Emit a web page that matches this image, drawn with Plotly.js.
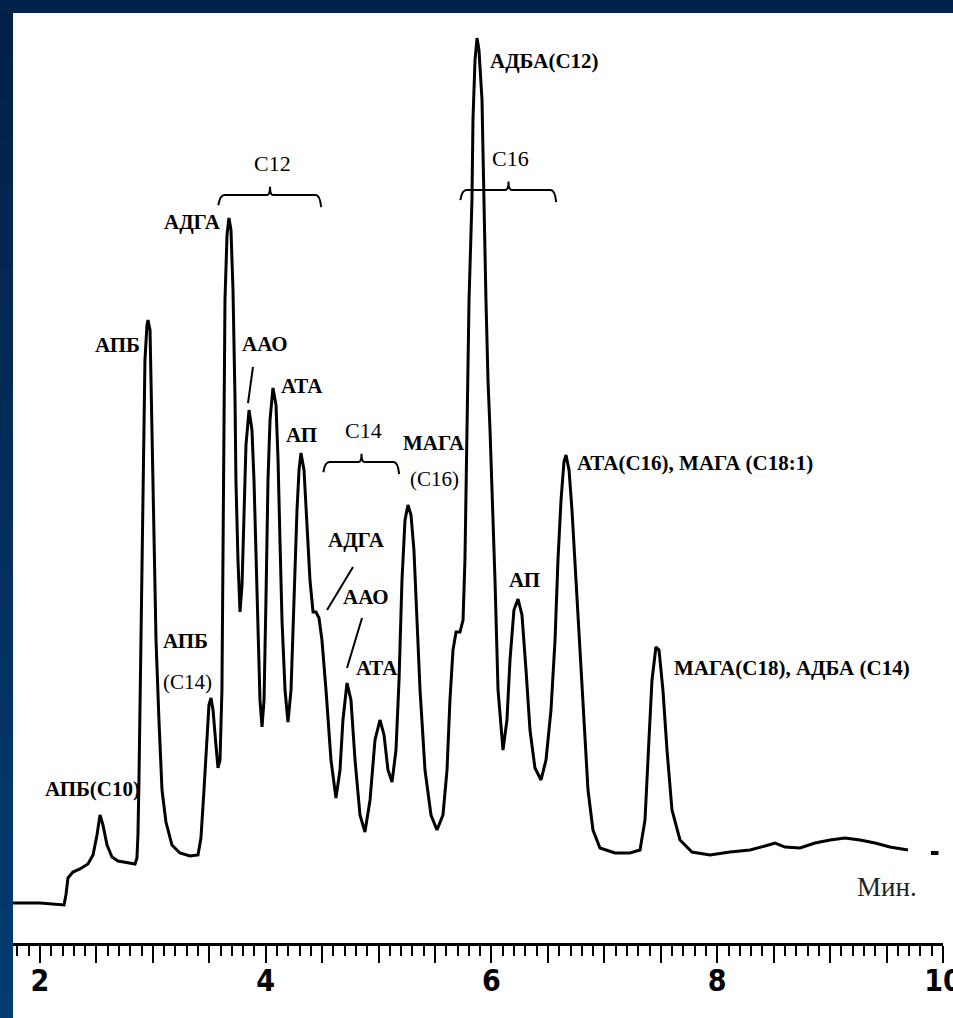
<!DOCTYPE html>
<html><head><meta charset="utf-8">
<script src="https://cdn.plot.ly/plotly-3.0.1.min.js"></script>
<style>html,body{margin:0;padding:0;background:#01234b;overflow:hidden}</style>
</head><body><div id="chart" style="width:953px;height:1018px;"></div>
<script>
// retention time, minutes
const timeMin = [
 1.761,2.000,2.213,2.230,2.248,2.292,2.354,2.425,2.470,2.505,
 2.532,2.558,2.594,2.638,2.691,2.780,2.842,2.859,2.868,2.877,
 2.895,2.904,2.913,2.930,2.948,2.957,2.975,2.992,3.001,3.010,
 3.028,3.054,3.081,3.116,3.169,3.240,3.329,3.400,3.426,3.453,
 3.480,3.497,3.515,3.533,3.559,3.577,3.595,3.612,3.621,3.630,
 3.639,3.657,3.674,3.692,3.710,3.728,3.736,3.754,3.772,3.790,
 3.807,3.825,3.852,3.878,3.896,3.914,3.931,3.949,3.967,3.985,
 4.002,4.020,4.038,4.064,4.091,4.109,4.126,4.144,4.171,4.197,
 4.224,4.250,4.277,4.295,4.312,4.339,4.365,4.392,4.419,4.445,
 4.472,4.498,4.534,4.578,4.622,4.658,4.684,4.720,4.755,4.791,
 4.835,4.879,4.924,4.968,5.012,5.048,5.083,5.119,5.154,5.181,
 5.207,5.234,5.260,5.287,5.313,5.340,5.367,5.411,5.464,5.517,
 5.570,5.606,5.632,5.659,5.686,5.721,5.748,5.765,5.783,5.801,
 5.827,5.836,5.854,5.872,5.889,5.898,5.916,5.925,5.934,5.951,
 5.969,5.987,6.031,6.058,6.102,6.137,6.164,6.199,6.235,6.270,
 6.306,6.341,6.385,6.439,6.483,6.527,6.563,6.589,6.616,6.642,
 6.660,6.687,6.713,6.749,6.784,6.820,6.855,6.899,6.961,7.094,
 7.227,7.316,7.360,7.395,7.422,7.457,7.484,7.519,7.555,7.599,
 7.670,7.776,7.936,8.113,8.290,8.423,8.512,8.600,8.733,8.866,
 8.999,9.132,9.265,9.398,9.530,9.690
];
// detector signal, arbitrary units
const signal = [
 4.30,4.30,4.09,5.16,6.99,7.63,7.96,8.49,9.46,11.61,
 13.76,12.69,10.54,9.25,8.82,8.60,8.49,9.14,11.61,17.53,
 31.51,41.18,49.78,62.69,66.45,66.99,65.91,56.24,49.78,43.33,
 32.58,23.98,16.45,13.01,10.54,9.68,9.35,9.46,11.29,16.45,
 21.83,25.59,26.34,25.05,21.29,18.82,19.68,27.20,41.18,56.24,
 69.14,76.13,77.96,76.67,70.22,58.39,49.78,41.18,35.59,38.49,
 46.56,53.55,57.31,55.16,49.78,41.18,32.58,26.13,23.23,26.13,
 36.88,49.78,56.24,59.68,57.85,51.94,43.33,34.73,27.20,23.76,
 27.20,36.88,46.56,50.86,52.69,50.86,45.48,39.03,35.59,35.59,
 34.95,32.58,27.20,19.68,15.59,18.60,23.98,27.96,26.13,19.68,
 13.76,11.94,15.38,21.83,23.98,22.37,18.60,17.31,20.75,28.28,
 39.03,45.48,47.10,46.02,42.26,34.73,27.20,18.60,13.76,12.15,
 13.76,18.60,26.13,31.51,33.44,33.44,34.73,41.18,56.24,69.14,
 79.89,88.49,94.95,97.31,96.02,93.87,90.65,84.95,77.74,69.14,
 60.54,55.16,39.03,27.20,20.75,23.98,30.43,35.81,36.99,35.27,
 29.35,22.90,18.82,17.53,19.68,25.05,32.58,41.18,47.63,51.72,
 52.47,50.86,46.56,39.03,31.51,22.90,16.45,12.15,10.22,9.68,
 9.68,10.00,13.23,21.83,28.28,31.83,31.51,27.20,20.75,14.30,
 11.08,9.78,9.46,9.78,10.00,10.43,10.75,10.32,10.22,10.75,
 11.08,11.29,11.08,10.75,10.32,10.00
];
// axis ticks
const tickValues = [2,2.5,3,3.5,4,4.5,5,5.5,6,6.5,7,7.5,8,8.5,9,9.5,10];
const tickLabels = ['2','','','','4','','','','6','','','','8','','','','10'];
// peak labels
const peakText = ['АДБА(С12)','АДГА','АПБ','ААО','АТА','АП','МАГА','(С16)','АДГА','ААО','АТА',
  'АПБ','(С14)','АПБ(С10)','АТА(С16), МАГА (С18:1)','АП','МАГА(С18), АДБА (С14)'];
const peakTime = [5.969,3.347,2.691,3.993,4.321,4.321,5.491,5.491,4.808,4.888,4.986,
  3.293,3.311,2.461,6.740,6.288,7.599];
const peakSignal = [94.84,77.53,64.30,64.41,59.89,54.62,53.76,49.89,43.33,37.20,29.57,
  32.47,28.06,16.56,51.61,39.03,29.57];
// group brackets
const groupText = ['С12','С14','С16'];
const groupStart = [3.595,4.525,5.739];
const groupEnd = [4.481,5.172,6.563];
const groupLevel = [80.43,51.72,80.97];
// pointer strokes (time0, signal0, time1, signal1)
const pointerT0 = [3.887,4.773,4.853];
const pointerS0 = [61.94,40.43,34.95];
const pointerT1 = [3.843,4.543,4.720];
const pointerS1 = [58.06,35.81,29.57];

const leftAnchored = [0,14,16];
const regularFace = [7,12];

const annotations = peakText.map((t,i)=>({
  x: peakTime[i], y: peakSignal[i], xref:'x', yref:'y', text: t, showarrow:false,
  xanchor: leftAnchored.includes(i) ? 'left' : 'center', yanchor:'middle',
  font:{family:'Liberation Serif, Times New Roman, serif', size:21, color:'#000',
        weight: regularFace.includes(i) ? 'normal' : 'bold'}
}));
groupText.forEach((t,i)=>{
  annotations.push({x:(groupStart[i]+groupEnd[i])/2 + 0.02, y: groupLevel[i]+3.4, xref:'x', yref:'y',
    text:t, showarrow:false, xanchor:'center', yanchor:'middle',
    font:{family:'Liberation Serif, Times New Roman, serif', size:22, color:'#000'}});
});
annotations.push({x:9.501, y:6.02, xref:'x', yref:'y', text:'Мин.', showarrow:false,
  xanchor:'center', yanchor:'middle',
  font:{family:'Liberation Serif, Times New Roman, serif', size:27, color:'#222'}});

const shapes = [];
// white canvas
shapes.push({type:'rect', xref:'paper', yref:'paper', x0:0, x1:1.05, y0:-0.2, y1:1,
  fillcolor:'#ffffff', line:{width:0}, layer:'below'});
// left border gradient
const nStrip = 24;
for (let k=0;k<nStrip;k++){
  const f = k/(nStrip-1);
  const r = Math.round(1 + f*2), g = Math.round(33 + f*27), b = Math.round(72 + f*42);
  shapes.push({type:'rect', xref:'paper', yref:'paper', x0:-0.02, x1:0,
    y0: 1 - (k+1)*(1.1/nStrip), y1: 1 - k*(1.1/nStrip) + 0.001,
    fillcolor:`rgb(${r},${g},${b})`, line:{width:0}, layer:'below'});
}
groupText.forEach((t,i)=>{
  const x0=groupStart[i], x1=groupEnd[i], y=groupLevel[i], xm=(x0+x1)/2;
  const d=0.04;
  const p = `M ${x0-0.015},${y-1.1} Q ${x0},${y} ${x0+d},${y} L ${xm-d*0.7},${y} Q ${xm},${y} ${xm},${y+0.9} `+
            `Q ${xm},${y} ${xm+d*0.7},${y} L ${x1-d},${y} Q ${x1},${y} ${x1+0.01},${y-1.3}`;
  shapes.push({type:'path', xref:'x', yref:'y', path:p, line:{color:'#000', width:2}});
});
pointerT0.forEach((t,i)=>{
  shapes.push({type:'line', xref:'x', yref:'y', x0:t, y0:pointerS0[i], x1:pointerT1[i], y1:pointerS1[i],
    line:{color:'#000', width:2}});
});
// baseline marker
shapes.push({type:'line', xref:'x', yref:'y', x0:9.893, x1:9.960, y0:9.68, y1:9.68, line:{color:'#000', width:4}});

const trace = {x: timeMin, y: signal, type:'scatter', mode:'lines',
  line:{color:'#000', width:3}, hoverinfo:'skip'};

const layout = {
  width:953, height:1018,
  margin:{l:13, r:10, t:13, b:75, pad:0},
  paper_bgcolor:'#01234b', plot_bgcolor:'#ffffff',
  showlegend:false,
  xaxis:{range:[1.761,10], tickmode:'array', tickvals:tickValues, ticktext:tickLabels,
    ticks:'outside', ticklen:17, tickwidth:2, tickcolor:'#000',
    ticklabeloverflow:'allow', ticklabelstandoff:-8,
    minor:{dtick:0.1, tick0:0, ticks:'outside', ticklen:10, tickwidth:2, tickcolor:'#000', showgrid:false},
    showline:true, linecolor:'#000', linewidth:3, showgrid:false, zeroline:false,
    tickfont:{family:'Liberation Sans Narrow, DejaVu Sans Condensed, Arial Narrow, sans-serif', size:30, color:'#000', weight:'bold'},
    fixedrange:true},
  yaxis:{range:[0,100], visible:false, showgrid:false, zeroline:false, fixedrange:true},
  annotations: annotations,
  shapes: shapes
};
Plotly.newPlot('chart',[trace],layout,{staticPlot:true});
</script>
</body></html>
